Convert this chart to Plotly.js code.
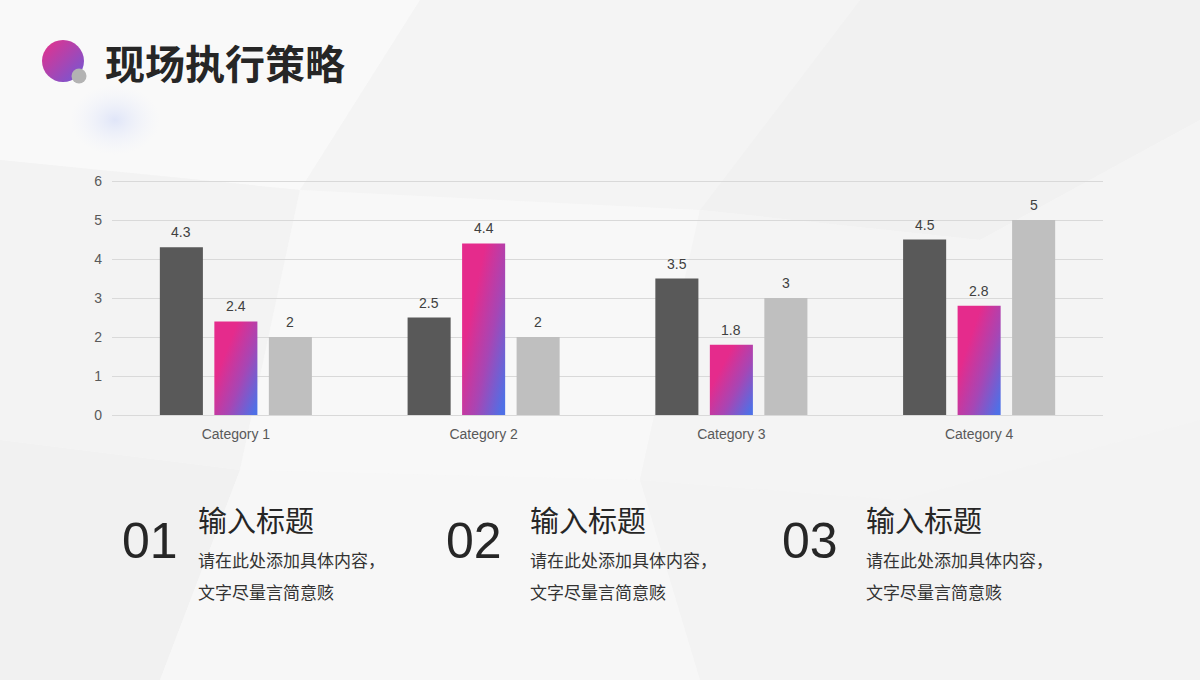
<!DOCTYPE html>
<html><head><meta charset="utf-8">
<script src="https://cdn.plot.ly/plotly-3.0.1.min.js"></script>
<style>html,body{margin:0;padding:0;background:#f6f6f6;}#chart{width:1200px;height:680px;}</style>
</head><body><div id="chart"></div>
<script>
const categories = ["Category 1", "Category 2", "Category 3", "Category 4"];
const series1 = [4.3, 2.5, 3.5, 4.5];
const series2 = [2.4, 4.4, 1.8, 2.8];
const series3 = [2, 2, 3, 5];
const yTicks = [0, 1, 2, 3, 4, 5, 6];
const pageTitle = "现场执行策略";
const itemNumbers = ["01", "02", "03"];
const itemTitles = ["输入标题", "输入标题", "输入标题"];
const itemLines1 = ["请在此处添加具体内容，", "请在此处添加具体内容，", "请在此处添加具体内容，"];
const itemLines2 = ["文字尽量言简意赅", "文字尽量言简意赅", "文字尽量言简意赅"];

const tickFont = {family: "Liberation Sans, Arial, sans-serif", size: 14, color: "#595959"};
const labelFont = {family: "Liberation Sans, Arial, sans-serif", size: 14, color: "#404040"};
function barTrace(vals, color, name) {
  return {type: "bar", x: categories, y: vals, name: name,
    marker: {color: color, line: {width: 0}}, hoverinfo: "skip"};
}
const allSeries = [series1, series2, series3];
const data = [
  barTrace(series1, "#595959", "Series 1"),
  barTrace(series2, "#c73aa0", "Series 2"),
  barTrace(series3, "#bfbfbf", "Series 3")
];

const bgSvg = '<svg xmlns="http://www.w3.org/2000/svg" width="1200" height="680">' +
 '<defs><radialGradient id="b" cx="0.5" cy="0.5" r="0.5"><stop offset="0" stop-color="#dde3f8" stop-opacity="0.9"/><stop offset="1" stop-color="#eef1fb" stop-opacity="0"/></radialGradient></defs>' +
 '<rect width="1200" height="680" fill="#f6f6f6"/>' +
 '<polygon points="0,0 420,0 300,190 0,160" fill="#f9f9f9"/>' +
 '<polygon points="420,0 860,0 700,210 300,190" fill="#f4f4f4"/>' +
 '<polygon points="860,0 1200,0 1200,120 980,240 700,210" fill="#f1f1f1"/>' +
 '<polygon points="0,160 300,190 240,470 0,440" fill="#f3f3f3"/>' +
 '<polygon points="300,190 700,210 640,480 240,470" fill="#f8f8f8"/>' +
 '<polygon points="700,210 980,240 1200,120 1200,420 900,500 640,480" fill="#f4f4f4"/>' +
 '<polygon points="0,440 240,470 160,680 0,680" fill="#f1f1f1"/>' +
 '<polygon points="240,470 640,480 700,680 160,680" fill="#f7f7f7"/>' +
 '<polygon points="640,480 900,500 1200,420 1200,680 700,680" fill="#f3f3f3"/>' +
 '<ellipse cx="115" cy="120" rx="45" ry="35" fill="url(#b)"/>' +
 '</svg>';
const iconSvg = '<svg xmlns="http://www.w3.org/2000/svg" width="60" height="60" viewBox="0 0 60 60">' +
 '<defs><linearGradient id="g" x1="0" y1="0" x2="1" y2="1"><stop offset="0" stop-color="#e8308a"/><stop offset="1" stop-color="#6d5ad8"/></linearGradient></defs>' +
 '<circle cx="22" cy="22" r="21" fill="url(#g)"/><circle cx="38" cy="37" r="7.5" fill="#b3b3b3"/></svg>';

const plotH = 236;
function py(y) { return (415 - y) / plotH; }
function px(x) { return (x - 112) / 991; }
const annotations = [];
annotations.push({xref: "paper", yref: "paper", x: px(103), y: py(62),
  xanchor: "left", yanchor: "middle", showarrow: false, text: "<b>" + pageTitle + "</b>",
  font: {family: "Noto Sans CJK SC", size: 40, color: "#262626"}});
const slotPx = 54.6;
allSeries.forEach(function (vals, s) {
  vals.forEach(function (v, i) {
    annotations.push({xref: "x", yref: "y", x: categories[i], y: v, xshift: (s - 1) * slotPx,
      yshift: 15, xanchor: "center", yanchor: "middle", showarrow: false, text: String(v), font: labelFont});
  });
});
const colX = [120, 444, 780];
const textX = [196, 528, 864];
for (let i = 0; i < 3; i++) {
  annotations.push({xref: "paper", yref: "paper", x: px(colX[i]), y: py(541), xanchor: "left", yanchor: "middle",
    showarrow: false, text: itemNumbers[i], font: {family: "Liberation Sans, Arial", size: 50, color: "#262626"}});
  annotations.push({xref: "paper", yref: "paper", x: px(textX[i]), y: py(519), xanchor: "left", yanchor: "middle",
    showarrow: false, text: itemTitles[i], font: {family: "Noto Sans CJK SC", size: 29, color: "#262626"}});
  annotations.push({xref: "paper", yref: "paper", x: px(textX[i]), y: py(559), xanchor: "left", yanchor: "middle",
    showarrow: false, text: itemLines1[i], font: {family: "Noto Sans CJK SC", size: 17, color: "#333333"}});
  annotations.push({xref: "paper", yref: "paper", x: px(textX[i]), y: py(591), xanchor: "left", yanchor: "middle",
    showarrow: false, text: itemLines2[i], font: {family: "Noto Sans CJK SC", size: 17, color: "#333333"}});
}

const layout = {
  width: 1200, height: 680,
  margin: {l: 112, r: 97, t: 680 - 265 - plotH, b: 265},
  paper_bgcolor: "rgba(0,0,0,0)", plot_bgcolor: "rgba(0,0,0,0)",
  showlegend: false, barmode: "group", bargap: 0.34, bargroupgap: 0.21,
  xaxis: {type: "category", tickfont: tickFont, showgrid: false, zeroline: false,
    showline: true, linecolor: "#d9d9d9", linewidth: 1, ticks: "", ticklen: 0,
    ticklabelstandoff: 6, automargin: false},
  yaxis: {range: [0, 6 * plotH / 234], tickvals: yTicks, tickfont: tickFont, showgrid: true, gridcolor: "#d9d9d9",
    gridwidth: 1, zeroline: false, showline: false, ticks: "", ticklabelstandoff: 9, automargin: false},
  annotations: annotations,
  images: [
    {source: "data:image/svg+xml;base64," + btoa(bgSvg), xref: "paper", yref: "paper",
      x: px(0), y: py(0), sizex: 1200 / 991, sizey: 680 / plotH, xanchor: "left", yanchor: "top",
      sizing: "stretch", layer: "below"},
    {source: "data:image/svg+xml;base64," + btoa(iconSvg), xref: "paper", yref: "paper",
      x: px(41), y: py(39), sizex: 60 / 991, sizey: 60 / plotH, xanchor: "left", yanchor: "top",
      sizing: "stretch", layer: "above"}
  ]
};

Plotly.newPlot("chart", data, layout, {staticPlot: true}).then(function (gd) {
  const svg = gd.querySelector("svg.main-svg");
  const ns = "http://www.w3.org/2000/svg";
  let defs = svg.querySelector("defs");
  if (!defs) { defs = document.createElementNS(ns, "defs"); svg.insertBefore(defs, svg.firstChild); }
  const lg = document.createElementNS(ns, "linearGradient");
  lg.setAttribute("id", "barGrad");
  lg.setAttribute("x1", "0.2"); lg.setAttribute("y1", "0.4");
  lg.setAttribute("x2", "0.9"); lg.setAttribute("y2", "1");
  [["0", "#e52b8c"], ["0.5", "#a746b4"], ["1", "#4f70e6"]].forEach(function (s) {
    const st = document.createElementNS(ns, "stop");
    st.setAttribute("offset", s[0]); st.setAttribute("stop-color", s[1]);
    lg.appendChild(st);
  });
  defs.appendChild(lg);
  const traces = gd.querySelectorAll(".barlayer .trace");
  if (traces[1]) traces[1].querySelectorAll("path").forEach(function (p) { p.style.fill = "url(#barGrad)"; });
});
</script></body></html>
